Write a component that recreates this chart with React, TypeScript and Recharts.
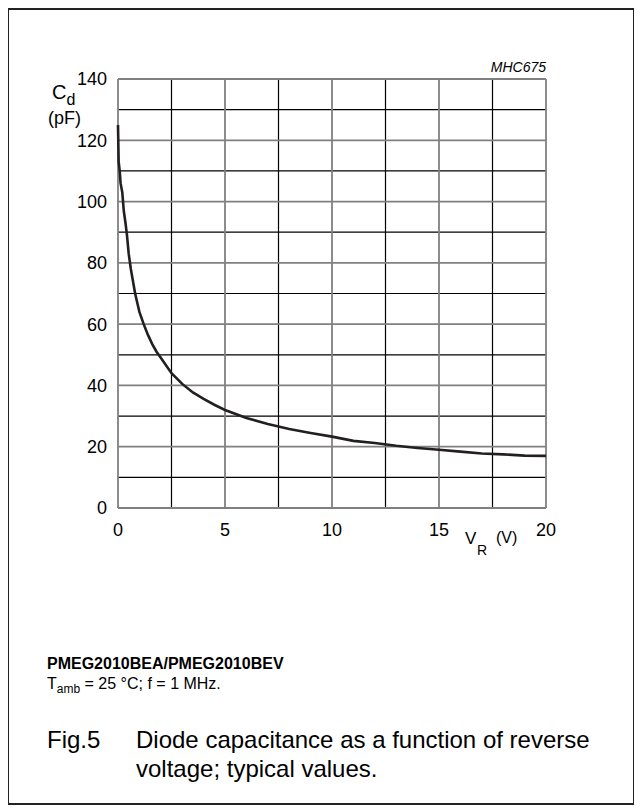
import React from "react";
import { LineChart, Line, XAxis, YAxis, ReferenceLine } from "recharts";

const voltage = [
  0, 0.03, 0.08, 0.12, 0.2, 0.27, 0.35, 0.42, 0.5, 0.6, 0.7, 0.8, 0.9, 1.0, 1.2, 1.4, 1.6, 1.8, 2.0, 2.5, 3.0,
  3.5, 4.0, 4.5, 5, 6, 7, 8, 9, 10, 11, 12, 13, 14, 15, 16, 17, 18, 19, 20,
];
const capacitance = [
  125, 113, 110, 106, 103, 97, 93, 89, 83, 78, 74, 70, 67, 64, 60, 56.5, 53.5, 51, 49, 44, 40.5, 37.7, 35.6,
  33.7, 32, 29.4, 27.4, 25.8, 24.5, 23.3, 21.9, 21.2, 20.3, 19.6, 19, 18.4, 17.8, 17.5, 17.1, 17,
];

const xTicks = [0, 5, 10, 15, 20];
const yTicks = [0, 20, 40, 60, 80, 100, 120, 140];
const xMinor = [2.5, 7.5, 12.5, 17.5];
const yMinor = [10, 30, 50, 70, 90, 110, 130];

const data = voltage.map((v, i) => ({ v, c: capacitance[i] }));

const FONT = "'Liberation Sans', Arial, sans-serif";
const MAJOR = "#808080";
const MINOR = "#000";

export default function App() {
  return (
    <div style={{ position: "relative", width: 634, height: 804, background: "#fff" }}>
      {/* outer frame */}
      <div
        style={{
          position: "absolute",
          left: -1,
          top: 0,
          width: 624,
          height: 793,
          border: "2px solid #222",
        }}
      />
      <div style={{ position: "absolute", left: 0, top: 0 }}>
        <LineChart width={620} height={560} data={data} margin={{ top: 71, right: 82, left: 0, bottom: 20 }}>
          <XAxis
            dataKey="v"
            type="number"
            domain={[0, 20]}
            ticks={xTicks}
            interval={0}
            axisLine={false}
            tickLine={false}
            tickSize={0}
            tickMargin={15}
            height={40}
            tick={{ fill: "#000", fontSize: 18, fontFamily: FONT }}
          />
          <YAxis
            type="number"
            domain={[0, 140]}
            ticks={yTicks}
            interval={0}
            axisLine={false}
            tickLine={false}
            tickSize={0}
            tickMargin={11}
            width={110}
            tick={{ fill: "#000", fontSize: 18, fontFamily: FONT }}
          />
          {xMinor.map((x) => (
            <ReferenceLine key={"xm" + x} x={x} stroke={MINOR} strokeWidth={1.2} />
          ))}
          {yMinor.map((y) => (
            <ReferenceLine key={"ym" + y} y={y} stroke={MINOR} strokeWidth={1.2} />
          ))}
          {xTicks.map((x) => (
            <ReferenceLine key={"xM" + x} x={x} stroke={MAJOR} strokeWidth={1.8} />
          ))}
          {yTicks.map((y) => (
            <ReferenceLine key={"yM" + y} y={y} stroke={MAJOR} strokeWidth={1.8} />
          ))}
          <Line
            type="linear"
            dataKey="c"
            stroke="#231f20"
            strokeWidth={2.6}
            dot={false}
            isAnimationActive={false}
          />
        </LineChart>
      </div>
      {/* text overlay, page coordinates */}
      <svg
        width={634}
        height={804}
        style={{ position: "absolute", left: 0, top: 0, pointerEvents: "none" }}
        fontFamily={FONT}
        fill="#000"
      >
        <g transform="translate(-8,-8)">
          <text x={546} y={72} fontSize={14} fontStyle="italic" textAnchor="end">
            MHC675
          </text>
          <text x={52} y={99} fontSize={20}>
            C
          </text>
          <text x={66.5} y={105} fontSize={16}>
            d
          </text>
          <text x={48} y={124} fontSize={18}>
            (pF)
          </text>
          <text x={465} y={544} fontSize={17}>
            V
          </text>
          <text x={477} y={555} fontSize={14}>
            R
          </text>
          <text x={496} y={543} fontSize={16}>
            (V)
          </text>
          <text x={47} y={669} fontSize={16} fontWeight="bold">
            PMEG2010BEA/PMEG2010BEV
          </text>
          <text x={47} y={689} fontSize={16}>
            T
            <tspan fontSize={12} dy={4}>
              amb
            </tspan>
            <tspan dy={-4}> = 25 °C; f = 1 MHz.</tspan>
          </text>
          <text x={47} y={748} fontSize={24}>
            Fig.5
          </text>
          <text x={136} y={748} fontSize={24}>
            Diode capacitance as a function of reverse
          </text>
          <text x={136} y={777} fontSize={24}>
            voltage; typical values.
          </text>
        </g>
      </svg>
    </div>
  );
}
